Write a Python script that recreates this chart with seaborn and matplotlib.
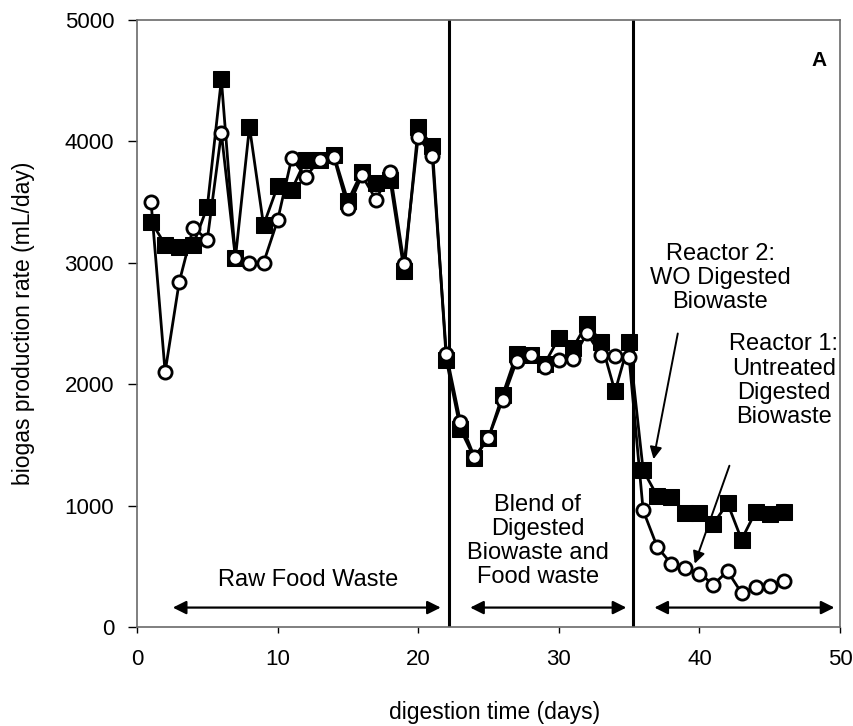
import matplotlib
matplotlib.use("Agg")
import matplotlib.pyplot as plt
import seaborn as sns
import pandas as pd

days = list(range(1, 47))

# Reactor 2: WO digested biowaste (filled squares)
reactor2 = [3340, 3150, 3130, 3150, 3460, 4510, 3040, 4120, 3310, 3630,
            3600, 3850, 3850, 3890, 3510, 3750, 3660, 3680, 2930, 4120,
            3960, 2200, 1630, 1390, 1560, 1910, 2250, 2240, 2170, 2380,
            2300, 2500, 2350, 1940, 2350, 1290, 1080, 1070, 940, 940,
            850, 1020, 720, 950, 930, 950]

# Reactor 1: untreated digested biowaste (open circles)
reactor1 = [3500, 2100, 2840, 3290, 3190, 4070, 3040, 3000, 3000, 3350,
            3860, 3710, 3850, 3870, 3450, 3720, 3520, 3750, 2990, 4040,
            3880, 2250, 1690, 1400, 1560, 1870, 2190, 2240, 2140, 2200,
            2210, 2420, 2240, 2230, 2220, 960, 660, 520, 490, 440,
            350, 460, 280, 330, 340, 380]

phase_bounds = [22.2, 35.25]
phase_labels = ["Raw Food Waste",
                "Blend of\nDigested\nBiowaste and\nFood waste"]

sns.set_style("white")
plt.rcParams["font.family"] = ["Liberation Sans", "DejaVu Sans"]
plt.rcParams["text.color"] = "black"
plt.rcParams["axes.labelcolor"] = "black"

df = pd.DataFrame({"day": days, "r1": reactor1, "r2": reactor2})

fig = plt.figure(figsize=(8.54, 7.26), dpi=100)
ax = fig.add_axes([137 / 854, 1 - 627 / 726, (840 - 137) / 854, (627 - 20) / 726])

sns.lineplot(data=df, x="day", y="r2", ax=ax, color="black", linewidth=2.0,
             marker="s", markersize=11, markerfacecolor="black",
             markeredgecolor="black", zorder=3)
sns.lineplot(data=df, x="day", y="r1", ax=ax, color="black", linewidth=2.0,
             marker="o", markersize=9.5, markerfacecolor="white",
             markeredgecolor="black", markeredgewidth=2.0, zorder=4)

for xb in phase_bounds:
    ax.axvline(xb, color="black", linewidth=2.2, zorder=2)

ax.set_xlim(0, 50)
ax.set_ylim(0, 5000)
ax.set_xticks([0, 10, 20, 30, 40, 50])
ax.set_yticks([0, 1000, 2000, 3000, 4000, 5000])
ax.tick_params(axis="x", bottom=True, direction="out", length=4.5, width=1,
               labelsize=16, colors="black", pad=11)
ax.tick_params(axis="y", left=True, direction="out", length=6.5, width=1,
               labelsize=16, colors="black", pad=10)
for sp in ax.spines.values():
    sp.set_color("#6a6a6a")
    sp.set_linewidth(1.2)

ax.set_xlabel("digestion time (days)", fontsize=16.5)
ax.set_ylabel("biogas production rate (mL/day)", fontsize=16.5)
ax.xaxis.set_label_coords(0.508, -0.122)
ax.yaxis.set_label_coords(-0.145, 0.5)

# phase arrows
arrow_kw = dict(arrowstyle="<|-|>", color="black", lw=1.6, mutation_scale=20)
for x0, x1 in [(2.35, 21.8), (23.5, 35.0), (36.6, 49.8)]:
    ax.annotate("", xy=(x1, 160), xytext=(x0, 160), arrowprops=arrow_kw)

ax.text(12.2, 390, phase_labels[0], ha="center", va="center", fontsize=17)
ax.text(28.5, 708, phase_labels[1], ha="center", va="center", fontsize=17,
        linespacing=1.12)
ax.text(41.5, 2875, "Reactor 2:\nWO Digested\nBiowaste",
        ha="center", va="center", fontsize=17, linespacing=1.12)
ax.text(46.0, 2030, "Reactor 1:\nUntreated\nDigested\nBiowaste",
        ha="center", va="center", fontsize=17, linespacing=1.12)
ax.text(48.5, 4670, "A", ha="center", va="center", fontsize=15,
        fontweight="bold")

pointer_kw = dict(arrowstyle="-|>", color="black", lw=1.4, mutation_scale=18)
ax.annotate("", xy=(36.7, 1360), xytext=(38.5, 2440), arrowprops=pointer_kw)
ax.annotate("", xy=(39.6, 500), xytext=(42.2, 1350), arrowprops=pointer_kw)

fig.savefig("out.png", dpi=100)
